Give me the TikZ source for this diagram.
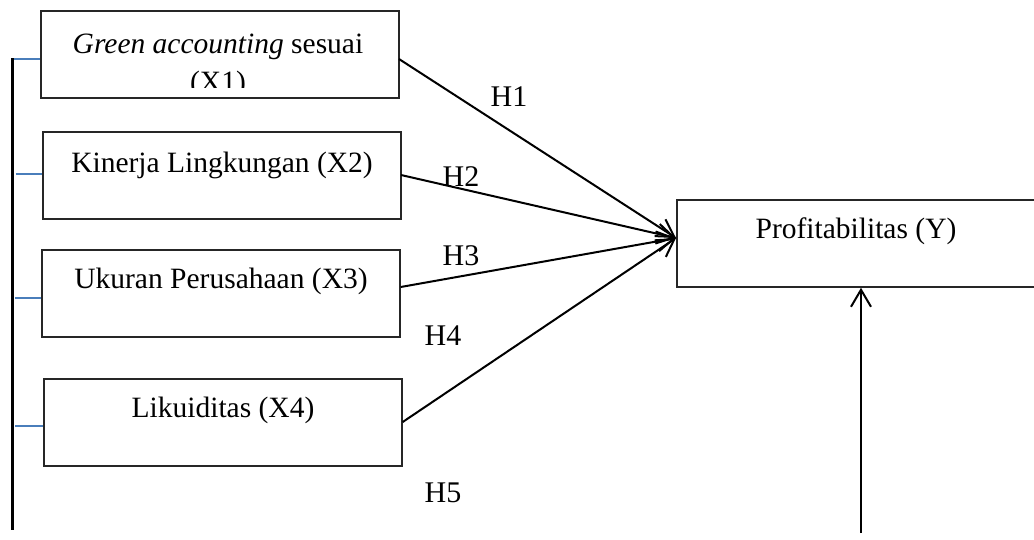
\documentclass[tikz,border=0pt]{standalone}
\usepackage{fontspec}
\setmainfont{Liberation Serif}
\usetikzlibrary{arrows.meta}
\definecolor{tickblue}{HTML}{4A7EBB}
\begin{document}
\begin{tikzpicture}[x=1pt,y=-1pt,
  box/.style={draw=black!85,line width=2pt,inner sep=0pt,minimum width=358pt,minimum height=87pt},
  lbl/.style={font=\fontsize{29.5}{38}\selectfont,anchor=base,inner sep=0pt},
  hl/.style={font=\fontsize{30}{34}\selectfont,anchor=base,inner sep=0pt},
  arr/.style={line width=2pt,-{Straight Barb[length=17pt,width=20pt,line width=2pt]}},
  tick/.style={tickblue,line width=2pt},
  spine/.style={black,line width=2.6pt}]
\useasboundingbox (0,0) rectangle (1034,539);
% boxes
\node[box] (x1) at (220,54) {};
\node[box] (x2) at (222,175.3) {};
\node[box] (x3) at (221.2,293.3) {};
\node[box] (x4) at (223.2,422.3) {};
\node[box,minimum width=359pt] (y) at (856.5,243.3) {};
% box texts
\begin{scope}
  \clip (20,12) rectangle (420,87.3);
  \node[lbl] (t1a) at (218,53.3) {\textit{Green accounting} sesuai};
  \node[lbl] (t1b) at (218,91.5) {(X1)};
\end{scope}
\node[lbl] (t2) at (222,172.7) {Kinerja Lingkungan (X2)};
\node[lbl] (t3) at (221,288.3) {Ukuran Perusahaan (X3)};
\node[lbl] (t4) at (223,417.3) {Likuiditas (X4)};
\node[lbl] (ty) at (856,238.3) {Profitabilitas (Y)};
% left spine and ticks
\coordinate (stop) at (12.3,58);
\coordinate (sbot) at (12.3,530);
\draw[spine] (stop) -- (sbot);
\coordinate (k1) at (13.5,59.3);
\coordinate (k2) at (15.5,173.7);
\coordinate (k3) at (15,298);
\coordinate (k4) at (15,425.7);
\draw[tick] (k1) -- (k1 -| x1.west);
\draw[tick] (k2) -- (k2 -| x2.west);
\draw[tick] (k3) -- (k3 -| x3.west);
\draw[tick] (k4) -- (k4 -| x4.west);
% arrows
\coordinate (tip) at (676,238);
\coordinate (s1) at (399,59);
\coordinate (s2) at (401,175);
\coordinate (s3) at (400.7,287);
\coordinate (s4) at (402.7,422);
\draw[arr] (s1) -- (tip);
\draw[arr] (s2) -- (tip);
\draw[arr] (s3) -- (tip);
\draw[arr] (s4) -- (tip);
\coordinate (vb) at (861,533);
\draw[arr] (vb) -- (vb |- y.south);
% hypothesis labels
\node[hl] (h1) at (509,106.7) {H1};
\node[hl] (h2) at (461,186.7) {H2};
\node[hl] (h3) at (461,265.7) {H3};
\node[hl] (h4) at (443,345) {H4};
\node[hl] (h5) at (443,502.7) {H5};
\end{tikzpicture}
\end{document}
